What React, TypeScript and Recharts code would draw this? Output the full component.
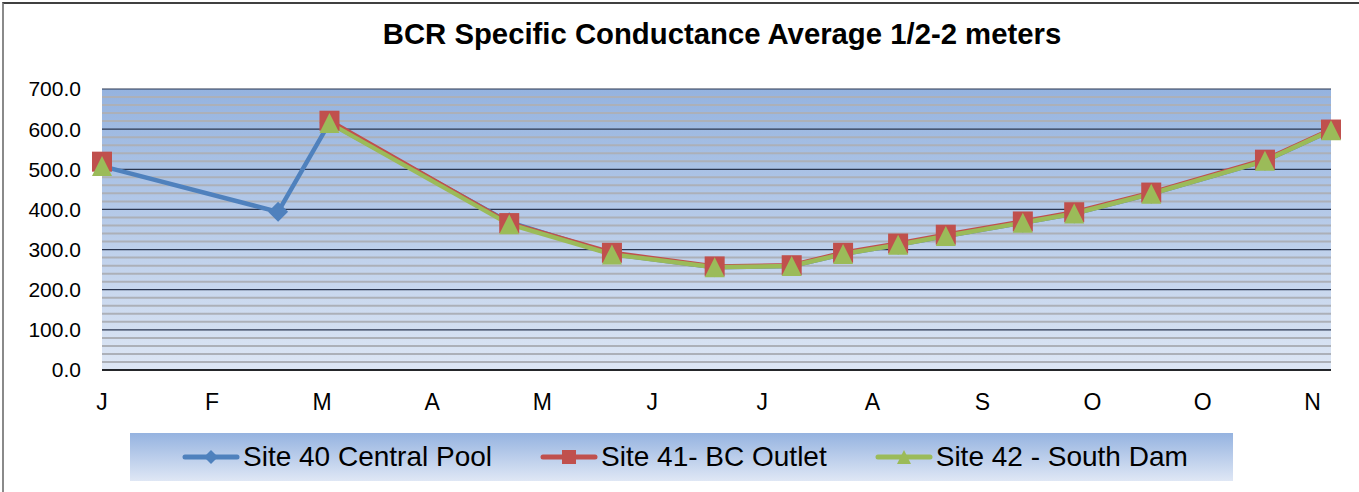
import { LineChart, Line, XAxis, YAxis, CartesianGrid, Legend, ReferenceArea } from 'recharts'

// sample dates and the three site series (uS/cm)
const axisStart = '2011-01-04'
const sampleDates = [
  '2011-01-04', '2011-02-21', '2011-03-07', '2011-04-25', '2011-05-23',
  '2011-06-20', '2011-07-11', '2011-07-25', '2011-08-09', '2011-08-22',
  '2011-09-12', '2011-09-26', '2011-10-17', '2011-11-17', '2011-12-05',
]
const site40 = [508, 394, 616, 368, 289, 256, 259, 289, 312, 334, 367, 390, 439, 521, 597]
const site41 = [519, null, 621, 366, 292, 258, 261, 292, 315, 337, 370, 393, 442, 524, 599]
const site42 = [508, null, 615, 363, 288, 256, 259, 289, 312, 334, 367, 390, 439, 521, 597]

const tickLabels = ['J', 'F', 'M', 'A', 'M', 'J', 'J', 'A', 'S', 'O', 'O', 'N']
const tickStepDays = 30
const axisEndDay = 335
const yMax = 700
const yTicks = [0, 100, 200, 300, 400, 500, 600, 700]
const yMinorTicks = Array.from({ length: 35 }, (_, i) => i * 20).filter((v) => v % 100 !== 0)

const DAY = 86400000
const dayOf = (d: string) => Math.round((Date.parse(d) - Date.parse(axisStart)) / DAY)

const data = sampleDates.map((d, i) => ({
  day: dayOf(d),
  s40: site40[i],
  s41: site41[i],
  s42: site42[i],
}))
const xTicks = tickLabels.map((_, i) => i * tickStepDays)

const FONT = '"Liberation Sans", Arial, sans-serif'
const BLUE = '#4f81bd'
const RED = '#c0504d'
const GREEN = '#9bbb59'

const Diamond = ({ cx, cy, r = 10, fill }: any) =>
  cx == null || cy == null ? <g /> : (
    <polygon points={`${cx},${cy - r} ${cx + r},${cy} ${cx},${cy + r} ${cx - r},${cy}`} fill={fill} />
  )
const Square = ({ cx, cy, r = 10, fill }: any) =>
  cx == null || cy == null ? <g /> : (
    <rect x={cx - r} y={cy - r} width={r * 2} height={r * 2} fill={fill} />
  )
const Triangle = ({ cx, cy, r = 10, fill }: any) =>
  cx == null || cy == null ? <g /> : (
    <polygon points={`${cx},${cy - r} ${cx + r},${cy + r} ${cx - r},${cy + r}`} fill={fill} />
  )

const markerFor: Record<string, any> = { s40: Diamond, s41: Square, s42: Triangle }

// minor gridlines every 20 units
const minorLines = ({ yAxis, offset }: any) => {
  const scale =
    yAxis && typeof yAxis.scale === 'function'
      ? yAxis.scale
      : (v: number) => offset.top + offset.height * (1 - v / yMax)
  return yMinorTicks.map((v) => scale(v))
}

function renderLegend(props: any) {
  const items = props.payload || []
  return (
    <div
      style={{
        width: 1103,
        height: 48,
        background: 'linear-gradient(#95b3e0, #dfe7f5)',
        display: 'flex',
        alignItems: 'center',
        fontFamily: FONT,
        fontSize: 28,
        color: '#000',
        paddingLeft: 52,
        boxSizing: 'border-box',
        whiteSpace: 'nowrap',
      }}
    >
      {items.map((it: any, i: number) => {
        const M = markerFor[it.dataKey]
        return (
          <div key={i} style={{ display: 'flex', alignItems: 'center', marginLeft: i === 0 ? 0 : 48 }}>
            <svg width={58} height={20}>
              <line x1={3} y1={10} x2={55} y2={10} stroke={it.color} strokeWidth={5} strokeLinecap="round" />
              <M cx={29} cy={10} r={7} fill={it.color} />
            </svg>
            <span style={{ marginLeft: 3 }}>{it.value}</span>
          </div>
        )
      })}
    </div>
  )
}

export default function App() {
  return (
    <div style={{ position: 'absolute', left: 0, top: 0, width: 1359, height: 492, overflow: 'hidden', background: '#fff' }}>
      <div
        style={{
          position: 'absolute', left: 2, top: 2, width: 1400, height: 600,
          borderTop: '2px solid #404040', borderLeft: '2px solid #8a8a8a',
        }}
      />
      <div
        style={{
          position: 'absolute', left: 322, top: 20, width: 800, textAlign: 'center',
          fontFamily: FONT, fontWeight: 'bold', fontSize: 29.3, lineHeight: '28px', color: '#000',
        }}
      >
        BCR Specific Conductance Average 1/2-2 meters
      </div>
      <div style={{ position: 'absolute', left: 0, top: 0 }}>
        <LineChart width={1359} height={492} data={data} margin={{ top: 89, right: 28, bottom: 34, left: 12 }}>
          <defs>
            <linearGradient id="plotBg" x1="0" y1="0" x2="0" y2="1">
              <stop offset="0%" stopColor="#95b3df" />
              <stop offset="100%" stopColor="#dde6f4" />
            </linearGradient>
          </defs>
          <CartesianGrid
            vertical={false}
            horizontalCoordinatesGenerator={minorLines}
            stroke="#acb0b8"
            strokeWidth={2}
            fill="url(#plotBg)"
            fillOpacity={1}
          />
          <CartesianGrid vertical={false} stroke="#2a3650" strokeWidth={1.2} />
          <XAxis
            type="number"
            dataKey="day"
            domain={[0, axisEndDay]}
            ticks={xTicks}
            tickFormatter={(v: number) => tickLabels[Math.round(v / tickStepDays)]}
            height={40}
            tickSize={0}
            tickMargin={24}
            axisLine={{ stroke: '#000', strokeWidth: 1.5 }}
            tick={{ fill: '#000', fontSize: 23, fontFamily: FONT }}
          />
          <YAxis
            domain={[0, yMax]}
            ticks={yTicks}
            width={90}
            tickSize={0}
            tickMargin={21}
            axisLine={false}
            tickFormatter={(v: number) => v.toFixed(1)}
            tick={{ fill: '#000', fontSize: 21, fontFamily: FONT }}
          />
          <ReferenceArea fill="none" stroke="#8a8a8a" strokeWidth={2.5} ifOverflow="visible" />
          <Legend content={renderLegend} wrapperStyle={{ left: 130, top: 433, width: 1103, height: 48 }} />
          <Line
            dataKey="s40"
            name="Site 40 Central Pool"
            stroke={BLUE}
            strokeWidth={4.5}
            dot={(p: any) => <Diamond key={p.key} cx={p.cx} cy={p.cy} fill={BLUE} />}
            activeDot={false}
            isAnimationActive={false}
          />
          <Line
            dataKey="s41"
            name="Site 41- BC Outlet"
            stroke={RED}
            strokeWidth={4.5}
            dot={(p: any) => <Square key={p.key} cx={p.cx} cy={p.cy} fill={RED} />}
            activeDot={false}
            isAnimationActive={false}
          />
          <Line
            dataKey="s42"
            name="Site 42 - South Dam"
            stroke={GREEN}
            strokeWidth={4.5}
            dot={(p: any) => <Triangle key={p.key} cx={p.cx} cy={p.cy} fill={GREEN} />}
            activeDot={false}
            isAnimationActive={false}
          />
        </LineChart>
      </div>
    </div>
  )
}
